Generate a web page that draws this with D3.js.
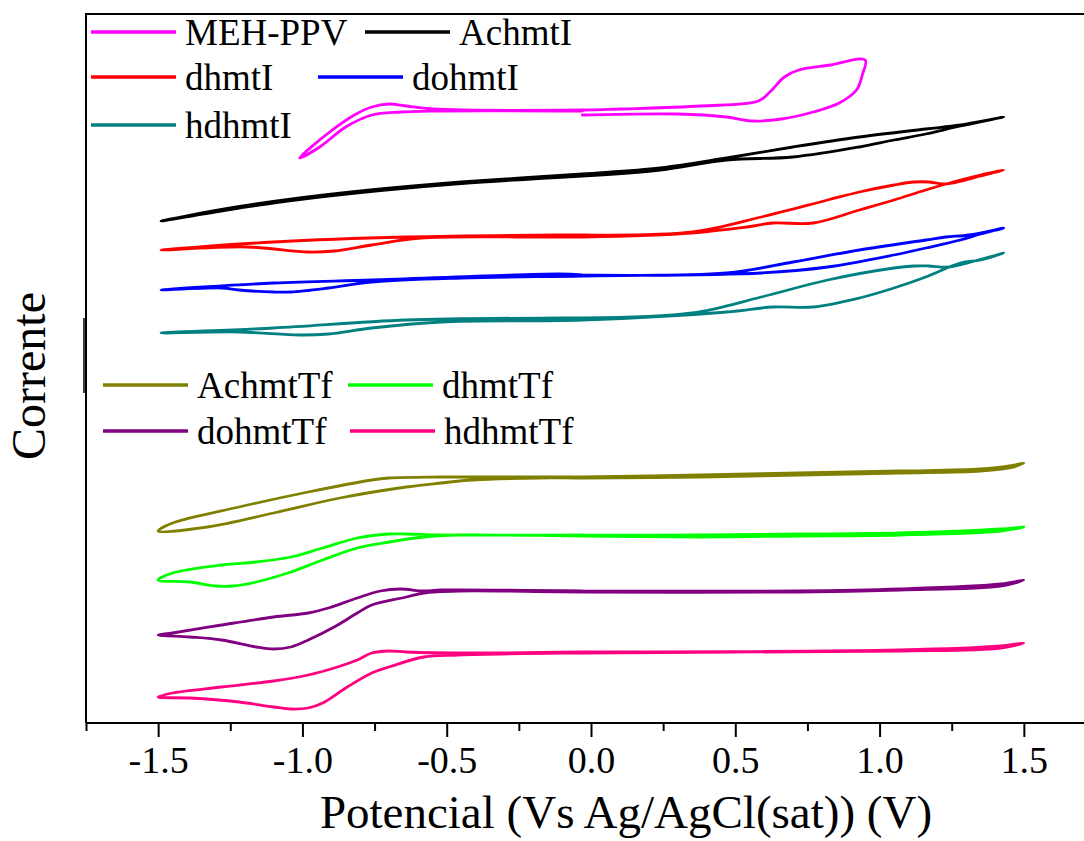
<!DOCTYPE html>
<html>
<head>
<meta charset="utf-8">
<script src="https://cdnjs.cloudflare.com/ajax/libs/d3/7.8.5/d3.min.js"></script>
<style>
  body { margin: 0; background: #fff; }
  svg { display: block; font-family: "Liberation Serif", "Times New Roman", serif; }
</style>
</head>
<body>
<svg width="1084" height="841"></svg>
<script>
// cyclic voltammograms: [potential (V), current (arb. units, curves stacked)]
let mehPpv = [[-0.03, 60.8], [0.30, 60.9], [0.47, 60.6], [0.56, 60.2], [0.66, 60.4], [0.77, 61.1],
  [0.86, 62.0], [0.92, 63.3], [0.94, 64.8], [0.95, 66.3], [0.83, 65.8], [0.72, 65.3], [0.67, 64.6],
  [0.62, 63.1], [0.58, 62.2], [0.38, 61.7], [0.10, 61.4], [-0.03, 61.3], [-0.55, 61.4], [-0.64, 61.7],
  [-0.70, 61.9], [-0.76, 61.6], [-0.82, 60.8], [-0.91, 59.0], [-1.01, 56.5], [-0.94, 57.6],
  [-0.85, 59.6], [-0.76, 60.8], [-0.66, 61.1], [-0.55, 61.2], [-0.03, 61.2]];

let achmtI = [[-0.03, 54.7], [0.24, 55.3], [0.47, 56.3], [0.70, 56.6], [0.93, 57.6], [1.05, 58.3],
  [1.16, 58.9], [1.28, 59.7], [1.43, 60.6], [1.28, 59.8], [1.16, 59.4], [0.93, 58.6], [0.70, 57.6],
  [0.47, 56.5], [0.24, 55.5], [-0.03, 54.9], [-0.45, 54.1], [-0.73, 53.4], [-1.01, 52.5],
  [-1.25, 51.5], [-1.49, 50.2], [-1.25, 51.35], [-1.01, 52.35], [-0.73, 53.25], [-0.45, 53.95], [-0.03, 54.7]];

let dhmtI = [[-0.03, 48.8], [0.35, 49.1], [0.59, 50.6], [0.82, 52.3], [0.93, 53.1], [1.05, 53.8],
  [1.12, 54.1], [1.17, 54.1], [1.22, 53.9], [1.27, 54.1], [1.35, 54.7], [1.43, 55.3], [1.35, 54.8],
  [1.28, 54.3], [1.16, 53.3], [1.05, 52.3], [0.93, 51.3], [0.77, 50.0], [0.63, 50.0], [0.54, 49.6],
  [0.35, 49.0], [-0.03, 48.6], [-0.59, 48.5], [-0.76, 47.8], [-0.89, 47.2], [-0.98, 47.1],
  [-1.19, 47.6], [-1.49, 47.3], [-1.10, 48.1], [-0.64, 48.6], [-0.11, 48.8], [-0.03, 48.8]];

let dohmtI = [[-0.03, 44.8], [0.47, 45.0], [0.70, 46.1], [0.93, 47.3], [1.16, 48.3], [1.23, 48.6],
  [1.31, 48.8], [1.43, 49.5], [1.35, 48.9], [1.28, 48.3], [1.16, 47.5], [1.05, 46.8], [0.82, 45.6],
  [0.59, 45.0], [-0.03, 44.7], [-0.45, 44.5], [-0.76, 44.1], [-0.91, 43.5], [-1.04, 43.1],
  [-1.10, 43.1], [-1.22, 43.3], [-1.28, 43.5], [-1.49, 43.3], [-1.10, 44.0], [-0.76, 44.3],
  [-0.11, 44.9], [-0.03, 44.8]];

let hdhmtI = [[-0.03, 40.5], [0.35, 41.0], [0.59, 42.6], [0.82, 44.3], [1.05, 45.5], [1.12, 45.7],
  [1.17, 45.7], [1.24, 45.6], [1.33, 46.2], [1.43, 47.0], [1.35, 46.3], [1.28, 46.0], [1.16, 44.6],
  [1.05, 43.5], [0.93, 42.5], [0.77, 41.6], [0.63, 41.6], [0.47, 41.1], [-0.03, 40.3], [-0.52, 40.1],
  [-0.76, 39.5], [-0.91, 38.9], [-1.01, 38.8], [-1.22, 39.1], [-1.49, 39.0], [-1.10, 39.5],
  [-0.64, 40.3], [-0.11, 40.5], [-0.03, 40.5]];

let achmtTf = [[-0.03, 24.6], [0.38, 24.8], [0.72, 25.0], [1.07, 25.2], [1.35, 25.4], [1.45, 25.7],
  [1.50, 26.0], [1.45, 25.5], [1.35, 25.2], [1.07, 25.0], [0.72, 24.8], [0.38, 24.6], [-0.03, 24.5],
  [-0.18, 24.5], [-0.41, 24.3], [-0.52, 24.0], [-0.64, 23.6], [-0.87, 22.5], [-1.10, 21.0],
  [-1.33, 19.6], [-1.50, 19.2], [-1.45, 20.0], [-1.22, 21.6], [-0.98, 23.1], [-0.76, 24.3],
  [-0.70, 24.5], [-0.52, 24.6], [-0.03, 24.6]];

let dhmtTf = [[-0.03, 18.8], [0.38, 18.8], [0.72, 18.9], [1.07, 19.0], [1.42, 19.4], [1.50, 19.6],
  [1.42, 19.2], [1.07, 18.8], [0.72, 18.7], [0.38, 18.6], [-0.03, 18.7], [-0.46, 18.8], [-0.58, 18.6],
  [-0.70, 18.1], [-0.81, 17.5], [-0.93, 16.3], [-1.04, 15.1], [-1.16, 14.1], [-1.24, 13.7],
  [-1.30, 13.7], [-1.39, 14.1], [-1.50, 14.3], [-1.45, 15.0], [-1.28, 15.8], [-1.16, 16.1],
  [-1.04, 16.6], [-0.93, 17.5], [-0.81, 18.5], [-0.70, 18.9], [-0.64, 18.9], [-0.52, 18.8], [-0.03, 18.8]];

let dohmtTf = [[-0.03, 13.2], [0.72, 13.2], [1.07, 13.4], [1.42, 13.9], [1.50, 14.3], [1.42, 13.7],
  [1.07, 13.3], [0.72, 13.1], [-0.03, 13.1], [-0.46, 13.2], [-0.58, 13.0], [-0.64, 12.6], [-0.76, 11.8],
  [-0.81, 11.0], [-0.89, 9.6], [-0.98, 8.3], [-1.04, 7.6], [-1.10, 7.4], [-1.16, 7.6], [-1.28, 8.3],
  [-1.39, 8.6], [-1.50, 8.8], [-1.45, 9.0], [-1.28, 9.8], [-1.10, 10.6], [-0.98, 11.0], [-0.91, 11.5],
  [-0.81, 12.5], [-0.73, 13.2], [-0.66, 13.4], [-0.58, 13.2], [-0.52, 13.3], [-0.03, 13.2]];

let hdhmtTf = [[-0.03, 7.1], [1.07, 7.3], [1.42, 7.7], [1.50, 8.0], [1.42, 7.5], [1.07, 7.2],
  [-0.03, 7.0], [-0.46, 6.8], [-0.58, 6.6], [-0.70, 5.6], [-0.76, 5.0], [-0.85, 3.5], [-0.93, 2.0],
  [-0.98, 1.5], [-1.04, 1.4], [-1.10, 1.6], [-1.22, 2.1], [-1.39, 2.5], [-1.50, 2.6], [-1.45, 3.0],
  [-1.28, 3.6], [-1.10, 4.2], [-0.98, 4.8], [-0.89, 5.5], [-0.81, 6.3], [-0.76, 7.0], [-0.70, 7.2],
  [-0.64, 7.1], [-0.41, 7.0], [-0.03, 7.1]];

let seriesNames = ["MEH-PPV", "AchmtI", "dhmtI", "dohmtI", "hdhmtI",
  "AchmtTf", "dhmtTf", "dohmtTf", "hdhmtTf"];
let seriesData = [mehPpv, achmtI, dhmtI, dohmtI, hdhmtI, achmtTf, dhmtTf, dohmtTf, hdhmtTf];
let seriesColors = ["#ff00ff", "#000000", "#ff0000", "#0000ff", "#008080",
  "#808000", "#00ff00", "#800080", "#ff0080"];

let majorTicks = [-1.5, -1.0, -0.5, 0.0, 0.5, 1.0, 1.5];
let minorTicks = [-1.75, -1.25, -0.75, -0.25, 0.25, 0.75, 1.25, 1.75];
let xDomain = [-1.75, 1.75];
let yDomain = [0, 71];

let svg = d3.select("svg");
let plotLeft = 86, plotTop = 13, plotW = 1010, plotH = 710;

let x = d3.scaleLinear().domain(xDomain).range([plotLeft, plotLeft + plotW]);
let y = d3.scaleLinear().domain(yDomain).range([plotTop + plotH, plotTop]);

let line = d3
  .line()
  .x(d => x(d[0]))
  .y(d => y(d[1]))
  .curve(d3.curveCatmullRom.alpha(0.5));

svg
  .append("g")
  .selectAll("path")
  .data(seriesData)
  .enter()
  .append("path")
  .attr("d", line)
  .attr("fill", "none")
  .attr("stroke", (d, i) => seriesColors[i])
  .attr("stroke-width", 2.8)
  .attr("stroke-linejoin", "round")
  .attr("stroke-linecap", "round");

// frame: top and left
svg.append("line")
  .attr("x1", plotLeft).attr("x2", plotLeft + plotW)
  .attr("y1", plotTop + 1).attr("y2", plotTop + 1)
  .attr("stroke", "#000").attr("stroke-width", 2);
svg.append("line")
  .attr("x1", plotLeft).attr("x2", plotLeft)
  .attr("y1", plotTop).attr("y2", plotTop + plotH)
  .attr("stroke", "#000").attr("stroke-width", 2);
// small doubled segment on the left axis
svg.append("line")
  .attr("x1", plotLeft - 2).attr("x2", plotLeft - 2)
  .attr("y1", 318).attr("y2", 393)
  .attr("stroke", "#000").attr("stroke-width", 1.5);

let fmt = d => d.toFixed(1);

let xAxis = svg
  .append("g")
  .attr("transform", `translate(0,${plotTop + plotH})`)
  .call(d3.axisBottom(x).tickValues(majorTicks).tickSize(14).tickPadding(9).tickFormat(fmt));
svg
  .append("g")
  .attr("transform", `translate(0,${plotTop + plotH})`)
  .call(d3.axisBottom(x).tickValues(minorTicks).tickSize(8).tickFormat(""))
  .call(g => g.select(".domain").remove());

svg.selectAll(".domain, .tick line")
  .attr("stroke", "#000")
  .attr("stroke-width", 2);
xAxis.select(".domain").attr("d", `M${plotLeft},0H${plotLeft + plotW}`);
xAxis.selectAll("text")
  .attr("font-family", "Liberation Serif, Times New Roman, serif")
  .attr("font-size", 38)
  .attr("fill", "#000");

svg.append("text")
  .attr("x", 626)
  .attr("y", 828)
  .attr("text-anchor", "middle")
  .attr("font-size", 47)
  .text("Potencial (Vs Ag/AgCl(sat)) (V)");

svg.append("text")
  .attr("transform", "translate(45,376) rotate(-90)")
  .attr("text-anchor", "middle")
  .attr("font-size", 48)
  .text("Corrente");

// legend rows: [line x start, row y]
let legendLayout = [
  [91, 32], [365, 32],
  [91, 77], [318, 77],
  [91, 125],
  [103, 385], [348, 385],
  [103, 431], [350, 431]
];

let lg = svg
  .append("g")
  .selectAll("g")
  .data(seriesNames)
  .enter()
  .append("g")
  .attr("transform", (d, i) => `translate(${legendLayout[i][0]},${legendLayout[i][1]})`);

lg.append("line")
  .attr("x1", 0).attr("x2", 85)
  .attr("y1", 0).attr("y2", 0)
  .attr("stroke", (d, i) => seriesColors[i])
  .attr("stroke-width", 3.5);

lg.append("text")
  .attr("x", 94)
  .attr("y", 13)
  .attr("font-size", 37)
  .attr("fill", "#000")
  .text(d => d);
</script>
</body>
</html>
